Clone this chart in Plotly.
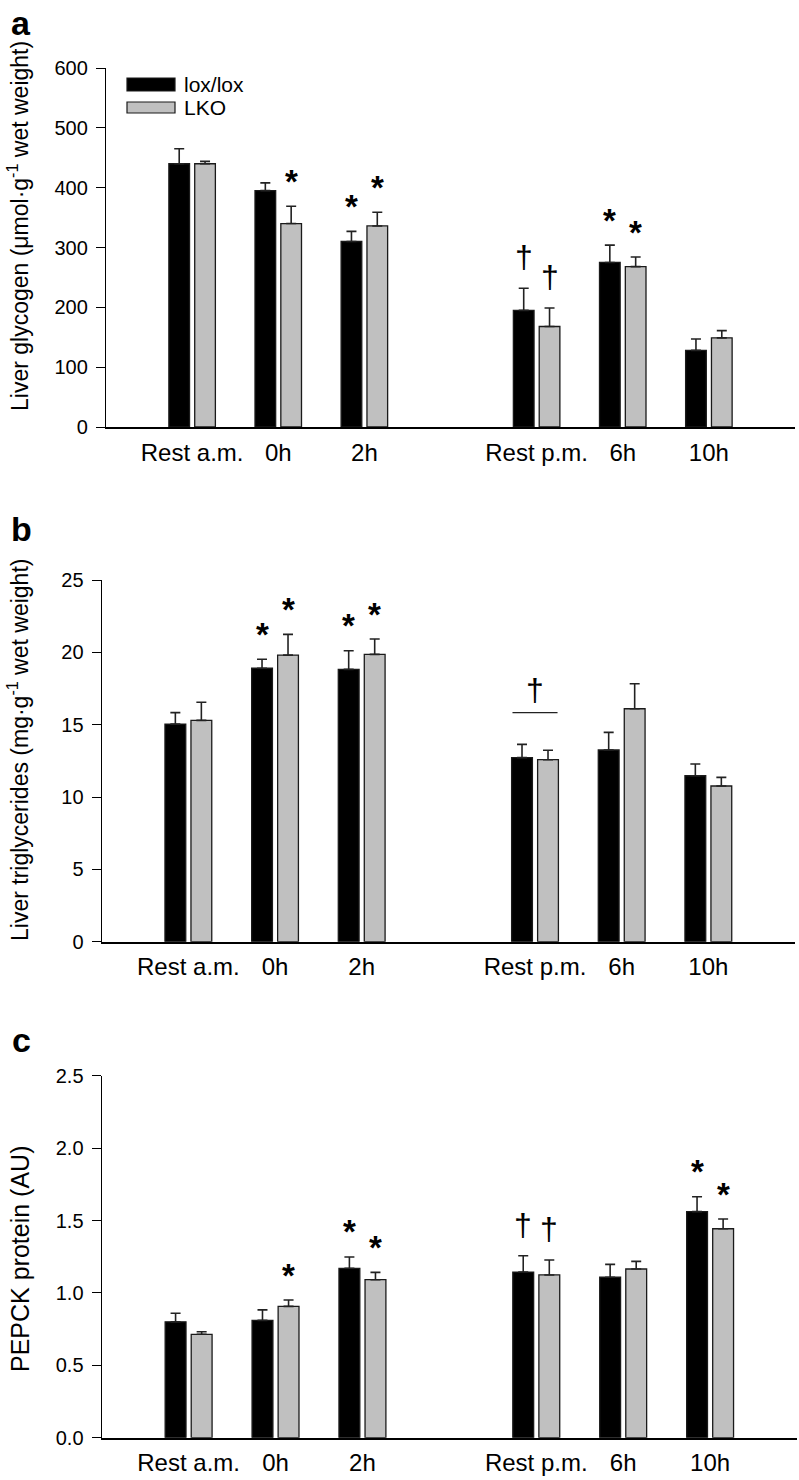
import plotly.graph_objects as go

W, H = 799, 1480
FONT = "Arial, Liberation Sans, sans-serif"

# ── data ────────────────────────────────────────────────────────────────
categories = ["Rest a.m.", "0h", "2h", "Rest p.m.", "6h", "10h"]
xpos = [1, 2, 3, 5, 6, 7]

glycogen_lox = [440, 395, 310, 195, 275, 128]
glycogen_lox_err = [25, 13, 17, 37, 29, 19]
glycogen_lko = [440, 340, 336, 168, 268, 149]
glycogen_lko_err = [4, 29, 23, 31, 16, 12]
glycogen_lox_sig = ["", "", "*", "†", "*", ""]
glycogen_lko_sig = ["", "*", "*", "†", "*", ""]

tg_lox = [15.04, 18.9, 18.82, 12.72, 13.25, 11.47]
tg_lox_err = [0.79, 0.62, 1.29, 0.92, 1.22, 0.81]
tg_lko = [15.3, 19.81, 19.86, 12.58, 16.1, 10.76]
tg_lko_err = [1.25, 1.43, 1.06, 0.65, 1.73, 0.6]
tg_lox_sig = ["", "*", "*", "", "", ""]
tg_lko_sig = ["", "*", "*", "", "", ""]
tg_group_sig = ["", "", "", "†", "", ""]

pepck_lox = [0.80, 0.81, 1.17, 1.144, 1.108, 1.561]
pepck_lox_err = [0.059, 0.073, 0.078, 0.113, 0.089, 0.103]
pepck_lko = [0.714, 0.907, 1.091, 1.124, 1.165, 1.443]
pepck_lko_err = [0.018, 0.044, 0.051, 0.103, 0.053, 0.067]
pepck_lox_sig = ["", "", "*", "†", "", "*"]
pepck_lko_sig = ["", "*", "*", "†", "", "*"]


def px(x):
    return x / W


def py(y):
    return 1 - y / H


BAR_W = 0.24
OFF_LOX, OFF_LKO = -0.27, 0.03

panels = [
    dict(ax="", lox=glycogen_lox, lox_e=glycogen_lox_err, lko=glycogen_lko, lko_e=glycogen_lko_err,
         lox_s=glycogen_lox_sig, lko_s=glycogen_lko_sig, rng=[0, 600], dtick=100, fmt="",
         xdom=[px(106), px(795)], ydom=[py(427), py(68)],
         title="Liver glycogen (μmol·g<sup>-1</sup> wet weight)", tsize=23, tx=18, ty=226,
         letter="a", ly=23),
    dict(ax="2", lox=tg_lox, lox_e=tg_lox_err, lko=tg_lko, lko_e=tg_lko_err,
         lox_s=tg_lox_sig, lko_s=tg_lko_sig, rng=[0, 25], dtick=5, fmt="",
         xdom=[px(101.7), px(795)], ydom=[py(941.7), py(580)],
         title="Liver triglycerides (mg·g<sup>-1</sup> wet weight)", tsize=23, tx=18, ty=750,
         letter="b", ly=529),
    dict(ax="3", lox=pepck_lox, lox_e=pepck_lox_err, lko=pepck_lko, lko_e=pepck_lko_err,
         lox_s=pepck_lox_sig, lko_s=pepck_lko_sig, rng=[0, 2.5], dtick=0.5, fmt=".1f",
         xdom=[px(101.7), px(797)], ydom=[py(1437.7), py(1075.7)],
         title="PEPCK protein (AU)", tsize=25, tx=20, ty=1259,
         letter="c", ly=1040),
]

fig = go.Figure()
layout = dict(
    width=W, height=H, paper_bgcolor="white", plot_bgcolor="white",
    margin=dict(l=0, r=0, t=0, b=0, pad=0), showlegend=False, barmode="overlay",
    font=dict(family=FONT, color="black", size=19),
)
annotations = []
shapes = []

for p in panels:
    xa, ya = "x" + p["ax"], "y" + p["ax"]
    for vals, errs, off, col in [(p["lox"], p["lox_e"], OFF_LOX, "black"),
                                 (p["lko"], p["lko_e"], OFF_LKO, "#c0c0c0")]:
        fig.add_trace(go.Bar(
            x=xpos, y=vals, width=BAR_W, offset=off, xaxis=xa, yaxis=ya,
            marker=dict(color=col, line=dict(color="#1a1a1a", width=1.3)),
            error_y=dict(type="data", symmetric=False, array=errs,
                         arrayminus=[0] * len(errs), color="#222222",
                         thickness=1.6, width=5),
        ))
    # significance markers above the error bars
    for vals, errs, sigs, off in [(p["lox"], p["lox_e"], p["lox_s"], OFF_LOX),
                                  (p["lko"], p["lko_e"], p["lko_s"], OFF_LKO)]:
        for xi, v, e, s in zip(xpos, vals, errs, sigs):
            if not s:
                continue
            star = s == "*"
            annotations.append(dict(
                x=xi + off + BAR_W / 2, y=v + e, xref=xa, yref=ya,
                text="<b>*</b>" if star else s, showarrow=False,
                xanchor="center", yanchor="middle",
                yshift=25 if star else 31,
                font=dict(family=FONT, size=33 if star else 32, color="black"),
            ))

    layout["xaxis" + p["ax"]] = dict(
        domain=p["xdom"], anchor=ya, range=[0, 8], showline=True, linecolor="black",
        linewidth=1.5, ticks="", tickvals=xpos, ticktext=categories,
        tickfont=dict(size=24, family=FONT, color="black"), showgrid=False,
        zeroline=False, fixedrange=True, ticklabelstandoff=3, automargin=False,
    )
    layout["yaxis" + p["ax"]] = dict(
        domain=p["ydom"], anchor=xa, range=p["rng"], dtick=p["dtick"],
        tickformat=p["fmt"], showline=True, linecolor="black", linewidth=1.3,
        ticks="outside", ticklen=9, tickwidth=1.3, tickcolor="black",
        tickfont=dict(size=20, family=FONT, color="black"), showgrid=False,
        zeroline=False, fixedrange=True, ticklabelstandoff=4, automargin=False,
    )
    annotations.append(dict(
        xref="paper", yref="paper", x=px(p["tx"]), y=py(p["ty"]), textangle=-90,
        text=p["title"], showarrow=False, xanchor="center", yanchor="middle",
        font=dict(family=FONT, size=p["tsize"], color="black"),
    ))
    annotations.append(dict(
        xref="paper", yref="paper", x=px(21), y=py(p["ly"]),
        text="<b>" + p["letter"] + "</b>", showarrow=False,
        xanchor="center", yanchor="middle",
        font=dict(family=FONT, size=34, color="black"),
    ))

# bracket + dagger over Rest p.m. in panel b
for i, (xi, s) in enumerate(zip(xpos, tg_group_sig)):
    if not s:
        continue
    top = max(tg_lox[i] + tg_lox_err[i], tg_lko[i] + tg_lko_err[i])
    yline = top + 2.2
    shapes.append(dict(type="line", xref="x2", yref="y2", x0=xi - 0.26, x1=xi + 0.26,
                       y0=yline, y1=yline, line=dict(color="#222222", width=1.3)))
    annotations.append(dict(
        x=xi, y=yline, xref="x2", yref="y2", text=s, showarrow=False,
        xanchor="center", yanchor="middle", yshift=23,
        font=dict(family=FONT, size=32, color="black"),
    ))

# legend (panel a)
legend_items = [("lox/lox", "black", 78, 91), ("LKO", "#c0c0c0", 102, 113)]
for label, col, y0, y1 in legend_items:
    shapes.append(dict(type="rect", xref="paper", yref="paper",
                       x0=px(127), x1=px(175), y0=py(y1), y1=py(y0),
                       fillcolor=col, line=dict(color="#1a1a1a", width=1.2)))
    annotations.append(dict(
        xref="paper", yref="paper", x=px(182), y=py((y0 + y1) / 2),
        text=label, showarrow=False, xanchor="left", yanchor="middle",
        font=dict(family=FONT, size=21, color="black"),
    ))

layout["annotations"] = annotations
layout["shapes"] = shapes
fig.update_layout(**layout)
fig.write_html("out.html", config=dict(displayModeBar=False),
               post_script="document.body.style.margin='0';document.body.style.overflow='hidden';")
